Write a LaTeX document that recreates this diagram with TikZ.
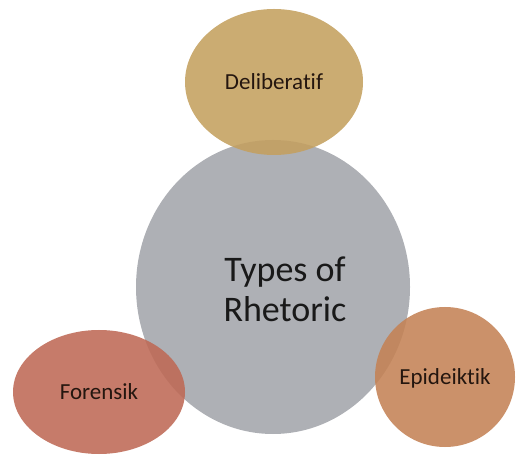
\documentclass[tikz,border=0pt]{standalone}
\usepackage{fontspec}
\setmainfont{Carlito}[Ligatures=NoCommon]
\usepackage{xcolor}
\usepackage{tikz}
\usetikzlibrary{shapes.geometric,positioning}
\definecolor{hubgray}{HTML}{AEB0B5}
\definecolor{delibtan}{HTML}{C4A05F}
\definecolor{forenred}{HTML}{BE6955}
\definecolor{epidorange}{HTML}{C48255}
\definecolor{labelink}{HTML}{24160F}

\begin{document}
\begin{tikzpicture}[x=1pt,y=1pt,
  hub/.style={ellipse, fill=hubgray, inner sep=0pt},
  hubtext/.style={align=center, text=black!90, font=\fontsize{36}{40}\selectfont},
  petal/.style={ellipse, fill opacity=0.88, text opacity=1, inner sep=0pt, text=labelink,
    font=\fontsize{23}{27}\selectfont}]
\useasboundingbox (0,0) rectangle (516,463);
% centre
\node[hub, minimum width=274pt, minimum height=294pt] (types) at (273,176) {};
\node[hubtext] (typeslabel) at ([xshift=12pt,yshift=-2pt]types.center) {Types of\\Rhetoric};
% three kinds
\node[petal, fill=delibtan, minimum width=178pt, minimum height=146pt, text depth=-3pt] (delib) at (274,381) {Deliberatif};
\node[petal, fill=forenred, minimum width=172pt, minimum height=124pt, text depth=-3pt] (foren) at (99,71) {Forensik};
\node[petal, fill=epidorange, minimum width=140pt, minimum height=140pt, text depth=-3pt] (epid) at (445,86) {Epideiktik};
\end{tikzpicture}
\end{document}
